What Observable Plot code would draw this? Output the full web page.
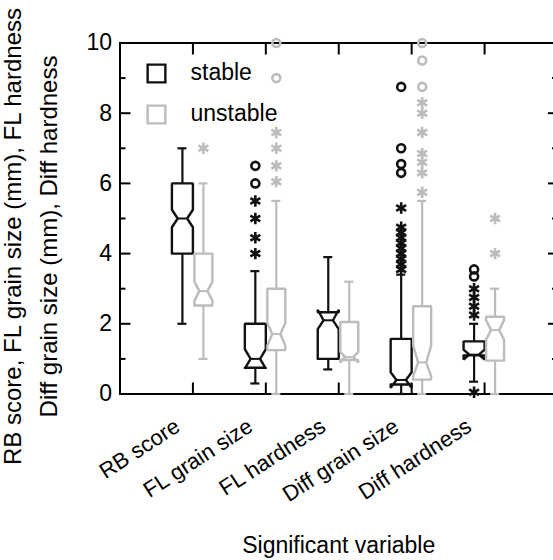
<!DOCTYPE html>
<html><head><meta charset="utf-8">
<script src="https://cdn.jsdelivr.net/npm/d3@7"></script>
<script src="https://cdn.jsdelivr.net/npm/@observablehq/plot@0.6"></script>
<style>html,body{margin:0;padding:0;background:#fff;overflow:hidden} svg{display:block;overflow:hidden}</style>
</head><body><div id="chart"></div>
<script>
// ---- data ----
const categories = ["RB score", "FL grain size", "FL hardness", "Diff grain size", "Diff hardness"];
const groups = ["stable", "unstable"];
const yTickValues = [0, 2, 4, 6, 8, 10];
const yMinorValues = [1, 3, 5, 7, 9];
const yLabelLines = ["RB score, FL grain size (mm), FL hardness", "Diff grain size (mm), Diff hardness"];
const xLabel = "Significant variable";

const stableLow     = [2,    0.3,  0.7,  0,    0.35];
const stableQ1      = [4,    0.75, 1.0,  0.27, 1.1];
const stableMedian  = [5,    1.0,  2.1,  0.4,  1.12];
const stableQ3      = [6,    2.0,  2.33, 1.57, 1.5];
const stableHigh    = [7,    3.5,  3.9,  3.4,  2.0];
const stableNotchLo = [4.75, 0.72, 1.85, 0.18, 0.98];
const stableNotchHi = [5.25, 1.28, 2.4,  0.62, 1.26];

const unstableLow     = [1,    0,    0,    0,    0];
const unstableQ1      = [2.52, 1.25, 0.97, 0.41, 0.95];
const unstableMedian  = [2.93, 1.71, 1.05, 0.9,  1.82];
const unstableQ3      = [4,    3.0,  2.05, 2.5,  2.2];
const unstableHigh    = [6,    5.5,  3.2,  5.5,  3.0];
const unstableNotchLo = [2.66, 1.38, 0.9,  0.5,  1.55];
const unstableNotchHi = [3.2,  2.02, 1.2,  1.38, 2.1];

const stableCircles   = [[], [6.5, 6.0], [], [8.75, 7.0, 6.55, 6.3], [3.55, 3.35]];
const stableStars     = [[], [5.5, 5.0, 4.45, 4.0], [], [5.3, 4.75, 4.6, 4.45, 4.3, 4.15, 4.0, 3.85, 3.7, 3.55], [3.0, 2.75, 2.5, 2.25, 0.05]];
const unstableCircles = [[], [10.0, 9.0], [], [10.0, 9.5, 8.75], []];
const unstableStars   = [[7.0], [7.45, 7.0, 6.5, 6.05], [], [8.3, 8.0, 7.45, 6.85, 6.6, 6.3, 5.75], [5.0, 4.0]];

// ---- layout / style ----
const BLACK = "#111111", GRAY = "#bcbcbc";
const W = 553, H = 560;
const mLeft = 119.5, mRight = -4, mTop = 42.5, mBottom = 166.5;
const ppu = (W - mRight - mLeft) / 6;           // pixels per x unit
const offsetPx = {stable: -10.5, unstable: 10.5};
const halfPx = {stable: 10.5, unstable: 9};
const capPx = 4.5;
const waist = 0.45;

const stats = {
  stable:   {low: stableLow, q1: stableQ1, med: stableMedian, q3: stableQ3, high: stableHigh, nlo: stableNotchLo, nhi: stableNotchHi, circ: stableCircles, star: stableStars},
  unstable: {low: unstableLow, q1: unstableQ1, med: unstableMedian, q3: unstableQ3, high: unstableHigh, nlo: unstableNotchLo, nhi: unstableNotchHi, circ: unstableCircles, star: unstableStars}
};

const rows = groups.flatMap(g => categories.map((cat, i) => {
  const s = stats[g];
  return {group: g, cat, c: i + 1 + offsetPx[g] / ppu, hw: halfPx[g] / ppu,
    low: s.low[i], q1: s.q1[i], med: s.med[i], q3: s.q3[i], high: s.high[i], nlo: s.nlo[i], nhi: s.nhi[i]};
}));

const boxPts = rows.flatMap((r, k) => {
  const L = r.c - r.hw, R = r.c + r.hw, iL = r.c - r.hw * waist, iR = r.c + r.hw * waist;
  return [[L, r.q1], [L, r.nlo], [iL, r.med], [L, r.nhi], [L, r.q3], [R, r.q3], [R, r.nhi], [iR, r.med], [R, r.nlo], [R, r.q1], [L, r.q1]]
    .map(([x, y]) => ({id: k, group: r.group, x, y}));
});

const outl = (key) => groups.flatMap(g => categories.flatMap((cat, i) =>
  stats[g][key][i].map(v => ({group: g, c: i + 1 + offsetPx[g] / ppu, value: v}))));
const circleRows = outl("circ");
const starRows = outl("star");

const legendMarks = groups.flatMap((g, i) => [
  Plot.dot([g], {frameAnchor: "top-left", dx: 36.5, dy: 30.5 + i * 41, symbol: "square", r: 10, stroke: d => d, strokeWidth: 2.4}),
  Plot.text([g], {frameAnchor: "top-left", dx: 70.5, dy: 30 + i * 40.5, text: d => d, textAnchor: "start", lineAnchor: "middle", fontSize: 23, fill: "black"})
]);

const plot = Plot.plot({
  width: W, height: H,
  marginLeft: mLeft, marginRight: mRight, marginTop: mTop, marginBottom: mBottom,
  style: {fontFamily: "'Liberation Sans', Arial, Helvetica, sans-serif", fontSize: "23px", background: "white", color: "black", overflow: "hidden"},
  x: {domain: [0, 6], label: null},
  y: {domain: [0, 10], label: null},
  color: {domain: groups, range: [BLACK, GRAY]},
  marks: [
    Plot.frame({stroke: "black", strokeWidth: 2}),
    Plot.axisY({anchor: "left", ticks: yTickValues, tickSize: -11, tickFormat: () => "", label: null, strokeWidth: 2}),
    Plot.axisY({anchor: "left", ticks: yMinorValues, tickSize: -6, tickFormat: () => "", label: null, strokeWidth: 2}),
    Plot.axisY({anchor: "right", ticks: yTickValues, tickSize: -10, tickFormat: () => "", label: null, strokeWidth: 2}),
    Plot.axisY({anchor: "right", ticks: yMinorValues, tickSize: -6, tickFormat: () => "", label: null, strokeWidth: 2}),
    Plot.axisY({anchor: "left", ticks: yTickValues, tickSize: 0, tickPadding: 8, fontSize: 23, label: null}),
    Plot.axisX({anchor: "top", ticks: [1, 2, 3, 4, 5], tickSize: -11, tickFormat: () => "", label: null, strokeWidth: 2}),
    Plot.axisX({anchor: "bottom", ticks: [1, 2, 3, 4, 5], tickSize: -11, tickFormat: () => "", label: null, strokeWidth: 2}),
    Plot.text(categories, {x: (d, i) => i + 1, text: d => d, frameAnchor: "bottom", dx: -20, dy: 23, rotate: -33, textAnchor: "end", lineAnchor: "top", fontSize: 22}),
    Plot.text([xLabel], {text: d => d, frameAnchor: "bottom", dy: 151.5, textAnchor: "middle", lineAnchor: "middle", fontSize: 23}),
    Plot.text([yLabelLines.join("\n")], {text: d => d, frameAnchor: "left", dx: -93, dy: 18, rotate: -90, textAnchor: "middle", lineAnchor: "middle", fontSize: 24, lineHeight: 1.5}),
    // whiskers
    Plot.ruleX(rows, {x: "c", y1: "q3", y2: "high", stroke: "group", strokeWidth: 2.2}),
    Plot.ruleX(rows, {x: "c", y1: "low", y2: "q1", stroke: "group", strokeWidth: 2.2}),
    Plot.ruleY(rows, {y: "high", x1: r => r.c - capPx / ppu, x2: r => r.c + capPx / ppu, stroke: "group", strokeWidth: 2.2}),
    Plot.ruleY(rows, {y: "low", x1: r => r.c - capPx / ppu, x2: r => r.c + capPx / ppu, stroke: "group", strokeWidth: 2.2}),
    // notched boxes
    Plot.line(boxPts, {x: "x", y: "y", z: "id", stroke: "group", strokeWidth: 2.4, strokeLinejoin: "miter"}),
    Plot.ruleY(rows, {y: "med", x1: r => r.c - r.hw * waist, x2: r => r.c + r.hw * waist, stroke: "group", strokeWidth: 2}),
    // outliers
    Plot.dot(circleRows, {x: "c", y: "value", stroke: "group", symbol: "circle", r: 4, strokeWidth: 2.6}),
    Plot.dot(starRows, {x: "c", y: "value", stroke: "group", symbol: "asterisk", r: 5.4, strokeWidth: 2.6}),
    ...legendMarks
  ]
});
document.getElementById("chart").appendChild(plot);
</script>
</body></html>
